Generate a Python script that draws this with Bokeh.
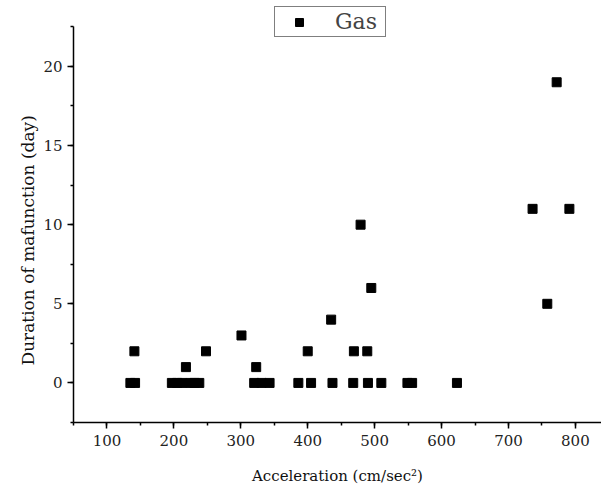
from bokeh.plotting import figure
from bokeh.models import SingleIntervalTicker, Range1d, Legend, LegendItem, ColumnDataSource, Title
from bokeh.embed import file_html
from bokeh.resources import INLINE

acceleration = [135, 142, 141, 197, 205, 212, 218, 225, 231, 238, 248, 301, 320, 323, 331, 343,
                386, 400, 405, 435, 437, 468, 469, 479, 489, 490, 495, 510, 549, 556, 623,
                736, 758, 772, 791]
duration = [0, 0, 2, 0, 0, 0, 1, 0, 0, 0, 2, 3, 0, 1, 0, 0,
            0, 2, 0, 4, 0, 0, 2, 10, 2, 0, 6, 0, 0, 0, 0,
            11, 5, 19, 11]

FONT = "DejaVu Serif"

p = figure(width=601, height=488, output_backend="svg", toolbar_location=None,
           x_range=Range1d(50, 839), y_range=Range1d(-2.5, 23.85),
           min_border_left=73, min_border_right=0, min_border_top=5, min_border_bottom=66)
p.outline_line_color = None
p.xgrid.visible = False
p.ygrid.visible = False
p.background_fill_color = "white"
p.border_fill_color = "white"

src = ColumnDataSource(dict(x=acceleration, y=duration))
r = p.scatter("x", "y", source=src, marker="square", size=9, fill_color="black", line_color="black")

for ax in (p.xaxis[0], p.yaxis[0]):
    ax.axis_line_width = 1.5
    ax.axis_line_color = "black"
    ax.major_tick_line_color = "black"
    ax.minor_tick_line_color = "black"
    ax.major_tick_line_width = 1.5
    ax.minor_tick_line_width = 1.5
    ax.major_tick_in = 0
    ax.minor_tick_in = 0
    ax.major_tick_out = 6
    ax.minor_tick_out = 3
    ax.major_label_text_font = FONT
    ax.major_label_text_font_size = "15px"
    ax.major_label_text_color = "#222222"
    ax.axis_label_text_font = FONT
    ax.axis_label_text_font_style = "normal"
    ax.axis_label_text_color = "#111111"

p.xaxis[0].ticker = SingleIntervalTicker(interval=100, num_minor_ticks=2)
p.yaxis[0].ticker = SingleIntervalTicker(interval=5, num_minor_ticks=2)
p.yaxis[0].bounds = (-2.5, 22.5)
p.xaxis[0].axis_label = "Acceleration (cm/sec²)"
p.xaxis[0].axis_label_text_font_size = "15px"
p.xaxis[0].major_label_standoff = 6
p.yaxis[0].major_label_standoff = 5
p.xaxis[0].axis_label_standoff = 18

ytitle = Title(text="Duration of mafunction (day)", align="left", offset=57,
               text_font=FONT, text_font_size="17px", text_font_style="normal",
               text_color="#111111", standoff=6)
p.add_layout(ytitle, "left")

legend = Legend(items=[LegendItem(label="Gas", renderers=[r])], location=(201, 385),
                border_line_color="black", border_line_width=1, padding=2, margin=0,
                glyph_width=44, glyph_height=20, label_height=20, label_standoff=14,
                label_width=48,
                label_text_font=FONT, label_text_font_size="22px", background_fill_alpha=1.0)
p.add_layout(legend, "center")

open("out.html", "w").write(file_html(p, INLINE))
